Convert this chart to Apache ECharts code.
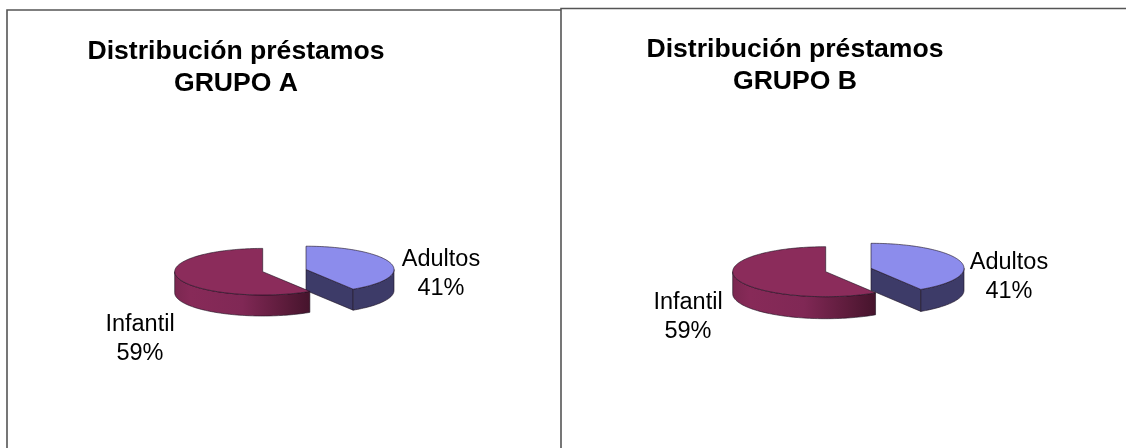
<!DOCTYPE html>
<html><head><meta charset="utf-8">
<style>html,body{margin:0;padding:0;background:#fff}#c{width:1126px;height:448px}</style>
<script src="https://cdn.jsdelivr.net/npm/echarts@6/dist/echarts.min.js"></script>
</head><body><div id="c"></div>
<script>
const categories = ['Adultos', 'Infantil'];
const grupoA = [41, 59];
const grupoB = [41, 59];
const titleA = 'Distribución préstamos\nGRUPO A';
const titleB = 'Distribución préstamos\nGRUPO B';

// layout of each squashed pie: slice centres (each slice is exploded), radii, depth and label anchors
const layoutA = { centers: [[306, 269.5], [262.7, 271.7]], rx: 88, ry: 23.3, depth: 21, labels: [[441, 274], [140, 339.5]] };
const layoutB = { centers: [[871, 268.3], [825.7, 271.7]], rx: 93, ry: 25, depth: 22, labels: [[1009, 277], [688, 317.5]] };

const FONT = '"Liberation Sans", Arial, sans-serif';
const topColors = ['#8c8cec', '#8b2c5b'];
const wallFill = [
  '#3d3b68',
  { type: 'linear', x: 0, y: 0, x2: 1, y2: 0, colorStops: [
    { offset: 0, color: '#7a2750' }, { offset: 0.12, color: '#872a58' }, { offset: 0.5, color: '#802855' },
    { offset: 0.8, color: '#5e1c3c' }, { offset: 1, color: '#45142c' } ] }
];
const EDGE = { stroke: '#1d1020', lineWidth: 0.6 };

function pt(c, L, a, dy) { return [c[0] + L.rx * Math.sin(a), c[1] - L.ry * Math.cos(a) + (dy || 0)]; }
function arc(c, L, a0, a1, dy) {
  const n = Math.max(2, Math.ceil(Math.abs(a1 - a0) / 0.03)), out = [];
  for (let i = 0; i <= n; i++) out.push(pt(c, L, a0 + (a1 - a0) * i / n, dy));
  return out;
}
function poly(points, fill, z2) {
  return { type: 'polygon', z2: z2, shape: { points }, style: Object.assign({ fill }, EDGE) };
}
function makeRender(values, L) {
  const total = values.reduce((s, v) => s + v, 0);
  return function (params, api) {
    const i = params.dataIndex;
    let before = 0;
    for (let k = 0; k < i; k++) before += values[k];
    const a0 = before / total * 2 * Math.PI;
    const a1 = (before + api.value(0)) / total * 2 * Math.PI;
    const c = L.centers[i], d = L.depth, kids = [];
    // cut face looking toward the viewer
    if (i === 0) {
      kids.push(poly([c, pt(c, L, a1), pt(c, L, a1, d), [c[0], c[1] + d]], wallFill[i], 1));
    }
    // outer wall: only the part of the rim on the near side (PI/2 .. 3PI/2)
    const w0 = Math.max(a0, Math.PI / 2), w1 = Math.min(a1, 3 * Math.PI / 2);
    if (w1 > w0) {
      const upper = arc(c, L, w0, w1, 0), lower = arc(c, L, w1, w0, d);
      kids.push(poly(upper.concat(lower), wallFill[i], 2));
    }
    // top face
    kids.push(poly([c].concat(arc(c, L, a0, a1, 0)), topColors[i], 3));
    // label
    const p = Math.round(api.value(0) / total * 100);
    kids.push({ type: 'text', z2: 5, style: {
      x: L.labels[i][0], y: L.labels[i][1], text: categories[i] + '\n' + p + '%',
      font: '23.5px ' + FONT, lineHeight: 29, fill: '#000', align: 'center', verticalAlign: 'middle' } });
    return { type: 'group', children: kids };
  };
}
function series(values, L) {
  return { type: 'custom', coordinateSystem: 'none', renderItem: makeRender(values, L),
    data: values.map((v, i) => ({ name: categories[i], value: [v] })), silent: true, animation: false, clip: false };
}
const titleStyle = { fontFamily: FONT, fontWeight: 'bold', fontSize: 26.6, lineHeight: 32, color: '#000', align: 'center' };
const chart = echarts.init(document.getElementById('c'), null, { renderer: 'canvas' });
chart.setOption({
  animation: false,
  backgroundColor: '#fff',
  title: [
    { text: titleA, left: 236, top: 36, textAlign: 'center', padding: 0, textStyle: titleStyle },
    { text: titleB, left: 795, top: 34, textAlign: 'center', padding: 0, textStyle: titleStyle }
  ],
  graphic: [
    { type: 'polyline', z: -1, shape: { points: [[7, 448], [7, 10], [561, 10]] }, style: { stroke: '#555', lineWidth: 1.6, fill: null } },
    { type: 'polyline', z: -1, shape: { points: [[561, 448], [561, 8.5], [1126, 8.5]] }, style: { stroke: '#555', lineWidth: 1.6, fill: null } }
  ],
  series: [series(grupoA, layoutA), series(grupoB, layoutB)]
});
</script></body></html>
